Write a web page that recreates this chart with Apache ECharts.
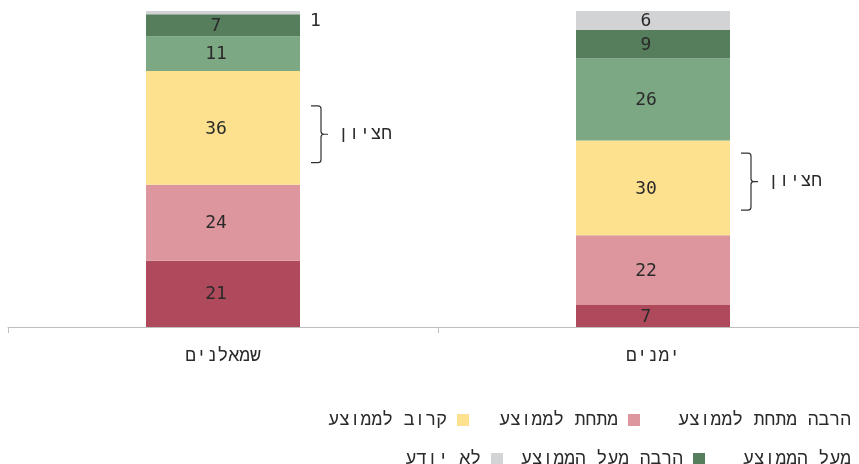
<!DOCTYPE html>
<html><head><meta charset="utf-8">
<script src="https://cdn.jsdelivr.net/npm/echarts@6/dist/echarts.min.js"></script>
<style>html,body{margin:0;padding:0;background:#fff}#c{width:859px;height:464px}</style>
</head><body><div id="c"></div>
<script>
const categories = ['שמאלנים', 'ימנים'];
const seriesNames = ['הרבה מתחת לממוצע', 'מתחת לממוצע', 'קרוב לממוצע', 'מעל הממוצע', 'הרבה מעל הממוצע', 'לא יודע'];
const muchBelow = [21, 7];
const below = [24, 22];
const near = [36, 30];
const above = [11, 26];
const muchAbove = [7, 9];
const dontKnow = [1, 6];
const medianRange = [[0, 52, 70], [1, 37, 55]];
const medianLabel = 'חציון';
const colors = ['#AF4A5D', '#DD969D', '#FEE18F', '#7DA884', '#567E5C', '#D2D3D5'];

const NUMFONT = '"DejaVu Sans Mono", monospace';
const HEBFONT = '"Liberation Mono", "DejaVu Sans Mono", monospace';
const HEBSIZE = 18;
const values = [muchBelow, below, near, above, muchAbove, dontKnow];

const barSeries = values.map((arr, i) => ({
  name: seriesNames[i],
  type: 'bar',
  stack: 'all',
  barWidth: 154,
  itemStyle: { color: colors[i] },
  label: { show: true, position: 'inside', offset: [-7, 1], color: '#2a2a2a', fontFamily: NUMFONT, fontSize: 18 },
  data: arr.map((v, j) => {
    if (i === 5 && j === 0) {
      return { value: v, label: { position: 'right', distance: 10, offset: [0, 9] } };
    }
    return v;
  })
}));

const bracketSeries = {
  type: 'custom',
  silent: true,
  encode: { x: 0, y: [1, 2] },
  data: medianRange,
  z: 10,
  renderItem: function (params, api) {
    const top = api.coord([api.value(0), api.value(2)]);
    const bot = api.coord([api.value(0), api.value(1)]);
    const half = 154 / 2;
    const x0 = top[0] + half + 11;
    const xv = x0 + 10;
    const xt = xv + 7;
    const ym = (top[1] + bot[1]) / 2;
    const r = 3;
    const path = `M${x0},${top[1]} L${xv - r},${top[1]} Q${xv},${top[1]} ${xv},${top[1] + r} L${xv},${ym - r} Q${xv},${ym} ${xv + r},${ym} L${xt},${ym} M${xv + r},${ym} Q${xv},${ym} ${xv},${ym + r} L${xv},${bot[1] - r} Q${xv},${bot[1]} ${xv - r},${bot[1]} L${x0},${bot[1]}`;
    return {
      type: 'group',
      children: [
        { type: 'path', shape: { pathData: path }, style: { fill: 'none', stroke: '#333', lineWidth: 1.2 } },
        { type: 'text', x: xt + 10, y: ym, style: { text: medianLabel, font: HEBSIZE + 'px ' + HEBFONT, fill: '#2a2a2a', textVerticalAlign: 'middle', textAlign: 'left' } }
      ]
    };
  }
};

function legendItem(name, right, top) {
  return {
    data: [name],
    orient: 'horizontal',
    align: 'right',
    right: right,
    top: top,
    itemWidth: 12,
    itemHeight: 12,
    icon: 'rect',
    padding: 0,
    textStyle: { fontFamily: HEBFONT, fontSize: HEBSIZE, color: '#2a2a2a', padding: [0, 5, 0, 0] },
    selectedMode: false
  };
}

const chart = echarts.init(document.getElementById('c'));
chart.setOption({
  animation: false,
  grid: { left: 8, width: 860, top: 11, bottom: 137, containLabel: false, outerBoundsMode: 'none' },
  legend: [
    legendItem(seriesNames[0], -14, 411),
    legendItem(seriesNames[1], 219, 411),
    legendItem(seriesNames[2], 390, 411),
    legendItem(seriesNames[3], -14, 450),
    legendItem(seriesNames[4], 154, 450),
    legendItem(seriesNames[5], 356, 450)
  ],
  xAxis: {
    type: 'category',
    data: categories,
    axisLine: { lineStyle: { color: '#bfbfbf', width: 1 } },
    axisTick: { show: true, length: 6, lineStyle: { color: '#bfbfbf' } },
    axisLabel: { fontFamily: HEBFONT, fontSize: HEBSIZE, color: '#2a2a2a', margin: 20 }
  },
  yAxis: { type: 'value', min: 0, max: 100, show: false, splitLine: { show: false } },
  series: barSeries.concat([bracketSeries])
});
</script></body></html>
